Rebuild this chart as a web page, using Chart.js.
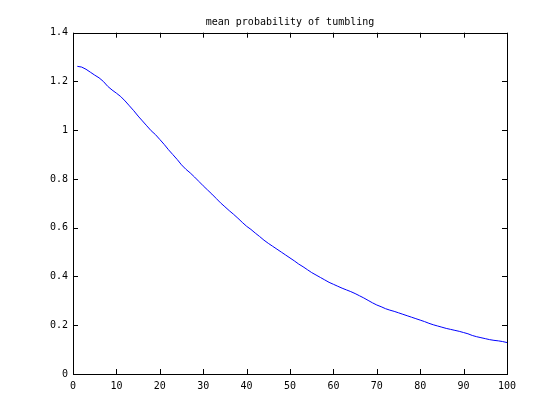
<!DOCTYPE html>
<html>
<head>
<meta charset="utf-8">
<script src="https://cdn.jsdelivr.net/npm/chart.js@4/dist/chart.umd.min.js"></script>
<style>
  html, body { margin: 0; padding: 0; background: #fff; }
  #wrap { width: 560px; height: 420px; }
</style>
</head>
<body>
<div id="wrap"><canvas id="myChart" width="560" height="420"></canvas></div>
<script>
/* ── data ─────────────────────────────────────── */

const TITLE = 'mean probability of tumbling';

const STEPS = [
  1, 2, 3, 4, 5, 6, 7, 8, 9, 10,
  11, 12, 13, 14, 15, 16, 17, 18, 19, 20,
  21, 22, 23, 24, 25, 26, 27, 28, 29, 30,
  31, 32, 33, 34, 35, 36, 37, 38, 39, 40,
  41, 42, 43, 44, 45, 46, 47, 48, 49, 50,
  51, 52, 53, 54, 55, 56, 57, 58, 59, 60,
  61, 62, 63, 64, 65, 66, 67, 68, 69, 70,
  71, 72, 73, 74, 75, 76, 77, 78, 79, 80,
  81, 82, 83, 84, 85, 86, 87, 88, 89, 90,
  91, 92, 93, 94, 95, 96, 97, 98, 99, 100
];

const MEAN_PROB = [
  1.262, 1.259, 1.250, 1.238, 1.226, 1.215, 1.200, 1.180, 1.165, 1.152,
  1.138, 1.120, 1.100, 1.080, 1.058, 1.038, 1.018, 0.998, 0.982, 0.962,
  0.942, 0.920, 0.900, 0.880, 0.858, 0.840, 0.825, 0.808, 0.790, 0.772,
  0.755, 0.738, 0.720, 0.702, 0.686, 0.670, 0.655, 0.639, 0.622, 0.606,
  0.593, 0.578, 0.564, 0.549, 0.536, 0.524, 0.512, 0.500, 0.488, 0.476,
  0.464, 0.451, 0.440, 0.428, 0.416, 0.406, 0.396, 0.386, 0.376, 0.368,
  0.360, 0.352, 0.345, 0.338, 0.330, 0.321, 0.312, 0.302, 0.292, 0.283,
  0.276, 0.268, 0.262, 0.257, 0.251, 0.245, 0.239, 0.233, 0.227, 0.221,
  0.215, 0.208, 0.202, 0.197, 0.192, 0.187, 0.183, 0.179, 0.175, 0.170,
  0.165, 0.158, 0.153, 0.149, 0.145, 0.141, 0.138, 0.136, 0.133, 0.129
];

const X_TICKS = [0, 10, 20, 30, 40, 50, 60, 70, 80, 90, 100];
const Y_TICKS = [0, 0.2, 0.4, 0.6, 0.8, 1, 1.2, 1.4];

const FONT_FAMILY = '"DejaVu Sans Mono", "Liberation Mono", monospace';

/* ── box + inward ticks + title (matlab look) ─── */

const boxTicks = {
  id: 'boxTicks',
  afterDraw(chart) {
    const { ctx, chartArea: a, scales: { x, y } } = chart;
    const len = 5;
    ctx.save();
    ctx.strokeStyle = '#000';
    ctx.lineWidth = 1;
    ctx.beginPath();
    X_TICKS.forEach(v => {
      const px = Math.round(x.getPixelForValue(v)) + 0.5;
      ctx.moveTo(px, a.bottom); ctx.lineTo(px, a.bottom - len);
      ctx.moveTo(px, a.top);    ctx.lineTo(px, a.top + len);
    });
    Y_TICKS.forEach(v => {
      const py = Math.round(y.getPixelForValue(v)) + 0.5;
      ctx.moveTo(a.left, py);  ctx.lineTo(a.left + len, py);
      ctx.moveTo(a.right, py); ctx.lineTo(a.right - len, py);
    });
    ctx.stroke();
    ctx.strokeRect(Math.round(a.left) + 0.5, Math.round(a.top) + 0.5,
                   Math.round(a.right - a.left), Math.round(a.bottom - a.top));

    // title centred over the axes box
    ctx.fillStyle = '#000';
    ctx.font = '10px ' + FONT_FAMILY;
    ctx.textAlign = 'center';
    ctx.textBaseline = 'alphabetic';
    ctx.fillText(TITLE, (a.left + a.right) / 2, 25);
    ctx.restore();
  }
};

/* ── chart ────────────────────────────────────── */

const tickFont = { family: FONT_FAMILY, size: 10 };

new Chart(document.getElementById('myChart'), {
  type: 'line',
  data: {
    datasets: [{
      data: STEPS.map((s, i) => ({ x: s, y: MEAN_PROB[i] })),
      borderColor: '#0000ff',
      borderWidth: 1,
      pointRadius: 0,
      fill: false,
      tension: 0
    }]
  },
  options: {
    responsive: false,
    animation: false,
    events: [],
    layout: { padding: { left: 0, right: 53, top: 32.7, bottom: 0 } },
    plugins: {
      legend: { display: false },
      tooltip: { enabled: false },
      title: { display: false }
    },
    scales: {
      x: {
        type: 'linear',
        min: 0, max: 100,
        afterBuildTicks: s => { s.ticks = X_TICKS.map(v => ({ value: v })); },
        afterFit: s => { s.height = 46; },
        grid: { display: false, drawTicks: false },
        border: { display: false },
        ticks: { color: '#000', font: tickFont, padding: 6, maxRotation: 0, autoSkip: false,
                 callback: v => String(v) }
      },
      y: {
        min: 0, max: 1.4,
        afterBuildTicks: s => { s.ticks = Y_TICKS.map(v => ({ value: v })); },
        afterFit: s => { s.width = 73; },
        grid: { display: false, drawTicks: false },
        border: { display: false },
        ticks: { color: '#000', font: tickFont, padding: 5, autoSkip: false,
                 callback: v => String(+Number(v).toFixed(1)) }
      }
    }
  },
  plugins: [boxTicks]
});
</script>
</body>
</html>
